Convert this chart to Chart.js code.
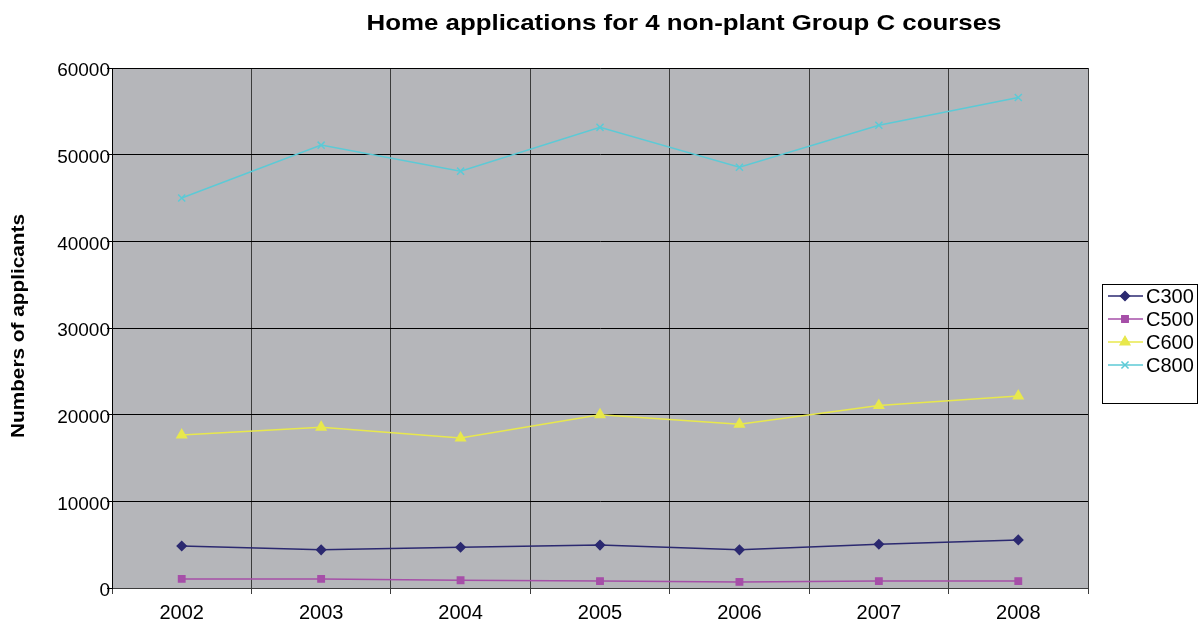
<!DOCTYPE html>
<html>
<head>
<meta charset="utf-8">
<script src="https://cdn.jsdelivr.net/npm/chart.js@4.4.0/dist/chart.umd.min.js"></script>
<style>
  html, body { margin: 0; padding: 0; background: #fff; }
  #wrap { width: 1203px; height: 626px; }
</style>
</head>
<body>
<div id="wrap"><canvas id="chart" width="1203" height="626"></canvas></div>
<script>
// data
const years = ['2002', '2003', '2004', '2005', '2006', '2007', '2008'];
const c300 = [4850, 4400, 4700, 4950, 4400, 5050, 5550];
const c500 = [1050, 1050, 900, 800, 700, 800, 800];
const c600 = [17650, 18550, 17300, 20000, 18900, 21050, 22150];
const c800 = [45000, 51100, 48100, 53150, 48550, 53400, 56600];

const FONT = 'Liberation Sans, Arial, sans-serif';
const TITLE = 'Home applications for 4 non-plant Group C courses';
const Y_TITLE = 'Numbers of applicants';

const mkSet = (label, data, color, style, r) => ({
    label: label,
    data: data,
    borderColor: color,
    backgroundColor: color,
    borderWidth: 1.5,
    pointStyle: style,
    pointRadius: r,
    pointBorderWidth: 1.5,
    tension: 0
});

// text stretched to a given width (the source text runs a bit wide)
function wideText(ctx, text, x, y, width) {
    const w = ctx.measureText(text).width;
    ctx.save();
    ctx.translate(x, y);
    ctx.scale(width / w, 1);
    ctx.fillText(text, 0, 0);
    ctx.restore();
}

// grey plot background
const plotBg = {
    id: 'plotBg',
    beforeDraw(chart) {
        const a = chart.chartArea, ctx = chart.ctx;
        ctx.save();
        ctx.fillStyle = '#b5b6ba';
        ctx.fillRect(a.left, a.top, a.right - a.left, a.bottom - a.top);
        ctx.restore();
    }
};

// titles + boxed legend on the right
const extras = {
    id: 'extras',
    afterDraw(chart) {
        const ctx = chart.ctx;
        ctx.save();
        ctx.fillStyle = '#000';
        ctx.textAlign = 'center';
        ctx.textBaseline = 'middle';
        ctx.font = 'bold 22px ' + FONT;
        wideText(ctx, TITLE, 684, 24, 635);

        ctx.save();
        ctx.translate(19, 326);
        ctx.rotate(-Math.PI / 2);
        ctx.font = 'bold 18px ' + FONT;
        wideText(ctx, Y_TITLE, 0, 0, 224);
        ctx.restore();

        // legend box
        ctx.strokeStyle = '#000';
        ctx.lineWidth = 1;
        ctx.fillStyle = '#fff';
        ctx.fillRect(1102.5, 284.5, 95, 119);
        ctx.strokeRect(1102.5, 284.5, 95, 119);
        ctx.font = '20px ' + FONT;
        ctx.textAlign = 'left';
        chart.data.datasets.forEach((ds, i) => {
            const y = 296 + i * 23;
            ctx.strokeStyle = ds.borderColor;
            ctx.lineWidth = 1.5;
            ctx.beginPath();
            ctx.moveTo(1108, y);
            ctx.lineTo(1143, y);
            ctx.stroke();
            Chart.helpers.drawPoint(ctx, {
                pointStyle: ds.pointStyle,
                radius: ds.pointRadius,
                borderWidth: 1.5
            }, 1125, y);
            ctx.fillStyle = ds.borderColor;
            ctx.fill();
            ctx.fillStyle = '#000';
            ctx.fillText(ds.label, 1146, y + 1);
        });
        ctx.restore();
    }
};

new Chart(document.getElementById('chart'), {
    type: 'line',
    data: {
        labels: years,
        datasets: [
            mkSet('C300', c300, '#2b2970', 'rectRot', 4.5),
            mkSet('C500', c500, '#a64fa8', 'rect', 4.5),
            mkSet('C600', c600, '#e8e84c', 'triangle', 5.5),
            mkSet('C800', c800, '#5ccad6', 'crossRot', 5)
        ]
    },
    options: {
        responsive: false,
        animation: false,
        layout: { padding: { top: 68, right: 115, bottom: 0, left: 0 } },
        plugins: {
            legend: { display: false },
            title: { display: false },
            tooltip: { enabled: false }
        },
        scales: {
            x: {
                offset: true,
                grid: { offset: true, color: '#3c3c3c', lineWidth: 1, tickLength: 6 },
                border: { color: '#3c3c3c' },
                ticks: { color: '#000', font: { family: FONT, size: 20 }, padding: 7 },
                afterFit(scale) { scale.height = 38; }
            },
            y: {
                min: 0,
                max: 60000,
                ticks: {
                    stepSize: 10000,
                    color: '#000',
                    font: { family: FONT, size: 19 },
                    padding: -3,
                    labelOffset: 3,
                    callback: (v) => String(v)
                },
                grid: { color: '#000', lineWidth: 1, tickLength: 5 },
                border: { color: '#000' },
                afterFit(scale) { scale.width = 112; }
            }
        }
    },
    plugins: [plotBg, extras]
});
</script>
</body>
</html>
